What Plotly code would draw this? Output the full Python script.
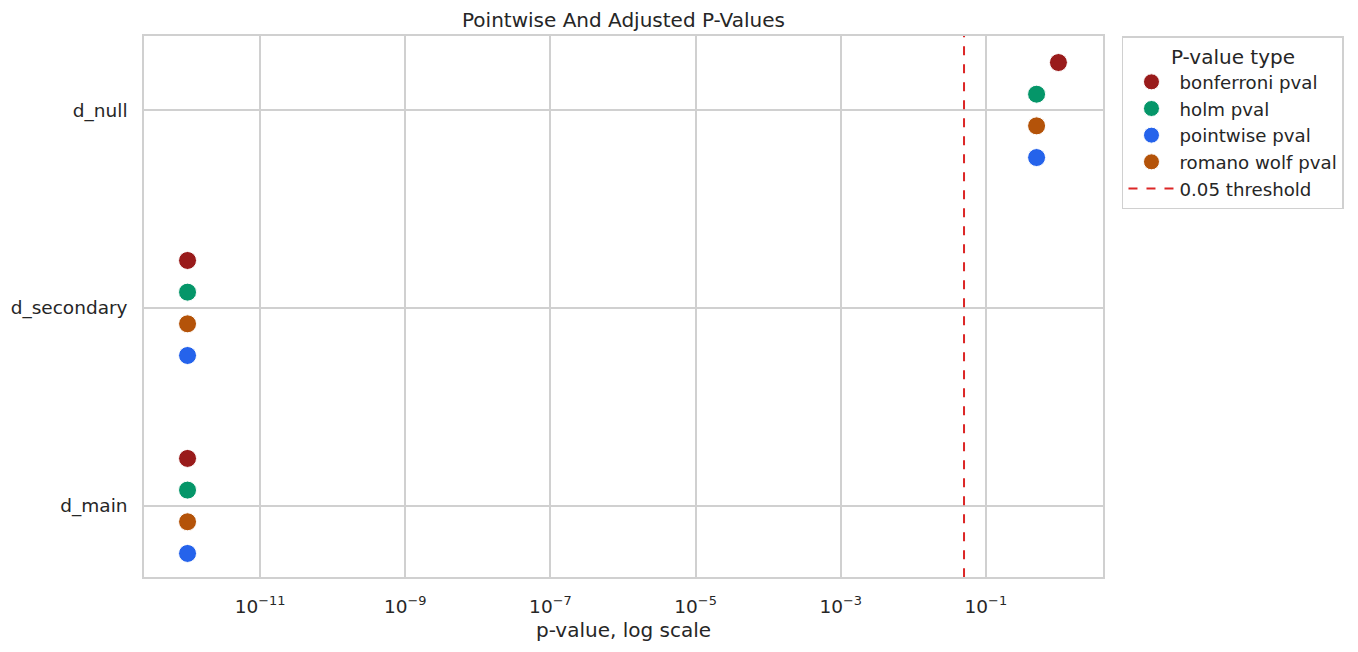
import plotly.graph_objects as go

# categories, bottom to top
tests = ['d_main', 'd_secondary', 'd_null']

# p-values per type, in the order of `tests`
pval_types = ['bonferroni pval', 'holm pval', 'pointwise pval', 'romano wolf pval']
bonferroni = [1e-12, 1e-12, 1.0]
holm = [1e-12, 1e-12, 0.5]
pointwise = [1e-12, 1e-12, 0.5]
romano_wolf = [1e-12, 1e-12, 0.5]

threshold = 0.05
x_ticks = [1e-11, 1e-9, 1e-7, 1e-5, 1e-3, 1e-1]
x_tick_text = ['10<sup>\u221211</sup>', '10<sup>\u22129</sup>', '10<sup>\u22127</sup>',
               '10<sup>\u22125</sup>', '10<sup>\u22123</sup>', '10<sup>\u22121</sup>']

COLORS = {
    'bonferroni pval': '#991b1b',
    'holm pval': '#059669',
    'pointwise pval': '#2563eb',
    'romano wolf pval': '#b45309',
    'threshold': '#dc2626',
    'grid': '#d0d0d0',
    'text': '#262626',
}
# dodge offsets within a category (up is positive)
OFFSETS = {
    'bonferroni pval': 0.24,
    'holm pval': 0.08,
    'romano wolf pval': -0.08,
    'pointwise pval': -0.24,
}

series = dict(zip(pval_types, [bonferroni, holm, pointwise, romano_wolf]))

fig = go.Figure()
for name in pval_types:
    fig.add_trace(go.Scatter(
        x=series[name],
        y=[i + OFFSETS[name] for i in range(len(tests))],
        mode='markers', name=name,
        marker=dict(size=18, color=COLORS[name], line=dict(width=1, color='white')),
    ))

# threshold line as a trace so it shows in the legend
fig.add_trace(go.Scatter(
    x=[threshold, threshold], y=[-0.36, 2.38], mode='lines', name='0.05 threshold',
    line=dict(color=COLORS['threshold'], width=2, dash='dash'),
))

axis_common = dict(
    showline=True, linecolor=COLORS['grid'], linewidth=1.5, mirror=True,
    showgrid=True, gridcolor=COLORS['grid'], gridwidth=1.5, zeroline=False,
    tickfont=dict(size=18.5, color=COLORS['text']), automargin=False,
)
fig.update_xaxes(type='log', range=[-12.6, 0.614], tickvals=x_ticks, ticktext=x_tick_text,
                 title=dict(text='p-value, log scale', font=dict(size=20, color=COLORS['text']),
                            standoff=7),
                 ticklabelstandoff=12, **axis_common)
fig.update_yaxes(range=[-0.359, 2.374], tickvals=list(range(len(tests))), ticktext=tests,
                 ticklabelstandoff=11, **axis_common)

# the page body adds an 8px offset, so margins are shifted to compensate
fig.update_layout(
    width=1358, height=652,
    margin=dict(l=136, r=263, t=28, b=83),
    paper_bgcolor='white', plot_bgcolor='white',
    font=dict(family='DejaVu Sans', color=COLORS['text'], size=18),
    title=dict(text='Pointwise And Adjusted P-Values', xref='paper', x=0.5, xanchor='center',
               yref='container', y=0.9816, yanchor='middle', font=dict(size=20)),
    legend=dict(
        title=dict(text='P-value type', side='top center', font=dict(size=20)),
        x=1.0198, xanchor='left', y=1.0, yanchor='top',
        bordercolor=COLORS['grid'], borderwidth=1.5, font=dict(size=18.2),
        itemwidth=46,
    ),
    showlegend=True,
)

fig.write_html('out.html')
